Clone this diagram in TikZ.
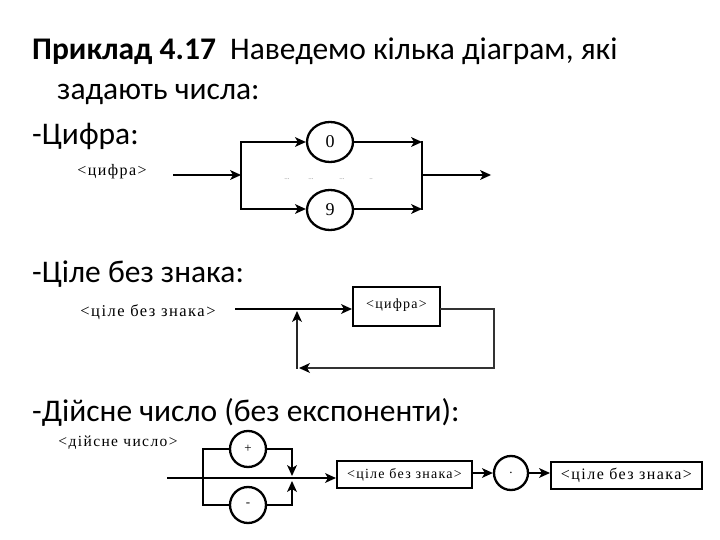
\documentclass[tikz,border=0pt]{standalone}
\usepackage{fontspec}
\setmainfont{Carlito}
\newfontfamily\serf[LetterSpace=9]{Liberation Serif}
\newfontfamily\serd{Liberation Serif}
\usetikzlibrary{shapes.geometric}
\tikzset{
  cwire/.style={line width=2.9pt,line cap=rect},
  cin/.style={line width=2.9pt,line cap=rect,shorten >=7pt},
  ahead/.pic={\fill[black] (0,0) -- (-11,5) -- (-8,0) -- (-11,-5) -- cycle;},
  head/.style={anchor=base west,inner sep=0pt,font=\fontsize{31.5}{36}\selectfont},
  lab/.style={font=\serf\fontsize{16}{18}\selectfont},
  digit/.style={ellipse,draw,line width=2.3pt,minimum width=46pt,minimum height=40pt,inner sep=0pt,font=\serd\fontsize{18}{20}\selectfont},
  sign/.style={circle,draw,line width=2.3pt,minimum size=36pt,inner sep=0pt,font=\serd\fontsize{13}{15}\selectfont},
  boxn/.style={draw,line width=2.1pt,inner sep=0pt,font=\serf\fontsize{14}{16}\selectfont},
  dotsn/.style={font=\serd\fontsize{7}{8}\selectfont,text=black!50}
}
\begin{document}
\begin{tikzpicture}[yscale=-1,x=1pt,y=1pt]
\path[use as bounding box] (0,0) rectangle (720,540);

% headings
\node[head] (t1) at (32,60) {\textbf{Приклад 4.17}\ \ Наведемо кілька діаграм, які};
\node[head] (t2) at (57,100) {задають числа:};
\node[head] (h1) at (32,145) {-Цифра:};
\node[head] (h2) at (32,282) {-Ціле без знака:};
\node[head] (h3) at (32,421) {-Дійсне число (без експоненти):};

% diagram 1
\node[lab] (l1) at (112,172) {<цифра>};
\coordinate (a0) at (174,175);
\coordinate (a1) at (241,175);
\coordinate (a1t) at (241,142);
\coordinate (a1b) at (241,209);
\node[digit] (c0) at (330,142) {0};
\node[digit] (c9) at (330,210) {9};
\coordinate (a2t) at (422,142);
\coordinate (a2b) at (422,209);
\coordinate (a2) at (422,175);
\coordinate (a3) at (491,175);
\draw[cin] (a0) -- (a1);
\draw[cwire] (a1t) -- (a1b);
\draw[cin] (a1t) -- (a1t -| c0.west);
\draw[cin] (a1b) -- (a1b -| c9.west);
\draw[cin] (c0.east) -- (a2t);
\draw[cin] (c9.east |- a2b) -- (a2b);
\draw[cwire] (a2t) -- (a2b);
\draw[cin] (a2) -- (a3);
\pic at (a1) {ahead};
\pic at (a1t -| c0.west) {ahead};
\pic at (a1b -| c9.west) {ahead};
\pic at (a2t) {ahead};
\pic at (a2b) {ahead};
\pic at (a3) {ahead};
\node[dotsn] (d1) at (287,179) {...};
\node[dotsn] (d2) at (311,179) {...};
\node[dotsn] (d3) at (342,179) {...};
\node[dotsn] (d4) at (371,179) {..};

% diagram 2
\node[lab,font=\serf\fontsize{16.5}{18}\selectfont] (l2) at (148,312) {<ціле без знака>};
\coordinate (b0) at (236,309);
\node[boxn,minimum width=87pt,minimum height=39pt] (bx) at (396.5,306.5) {\raisebox{6pt}{<цифра>}};
\coordinate (bj) at (297,311);
\coordinate (br) at (494,309);
\coordinate (brb) at (494,368);
\coordinate (bjb) at (299,368);
\coordinate (bjc) at (297,368);
\draw[cin] (b0) -- (b0 -| bx.west);
\draw[cin,black!80] (bx.east |- br) -- (br) -- (brb) -- (bjb);
\draw[cin,black!85] (bjc) -- (bj);
\pic at (b0 -| bx.west) {ahead};
\pic[rotate=180] at (bjb) {ahead};
\pic[rotate=90] at (bj) {ahead};

% diagram 3
\node[lab,font=\serf\fontsize{15.5}{17}\selectfont] (l3) at (118,443) {<дійсне число>};
\coordinate (e0) at (168,478);
\coordinate (elt) at (203,449);
\coordinate (elb) at (203,505);
\coordinate (ert) at (292,449);
\coordinate (erb) at (292,505);
\coordinate (ejt) at (292,476);
\coordinate (ejb) at (292,481);
\node[sign] (cp) at (248,449) {+};
\node[sign] (cm) at (248,505) {-};
\node[boxn,minimum width=135pt,minimum height=27pt] (b2) at (404.5,474.5) {<ціле без знака>};
\node[sign,minimum size=34pt] (cd) at (511,473) {.};
\node[boxn,minimum width=151pt,minimum height=27pt,font=\serf\fontsize{16}{18}\selectfont] (b3) at (626.5,475.5) {<ціле без знака>};
\draw[cin] (e0) -- (e0 -| b2.west);
\draw[cwire] (elt) -- (elb);
\draw[cwire] (elt) -- (cp.west);
\draw[cwire] (elb) -- (cm.west);
\draw[cin] (cp.east) -- (ert) -- (ejt);
\draw[cin] (cm.east) -- (erb) -- (ejb);
\draw[cin] (b2.east |- cd.west) -- (cd.west);
\draw[cin] (cd.east) -- (cd.east -| b3.west);
\pic at (e0 -| b2.west) {ahead};
\pic[rotate=-90] at (ejt) {ahead};
\pic[rotate=90] at (ejb) {ahead};
\pic at (cd.west) {ahead};
\pic at (cd.east -| b3.west) {ahead};
\end{tikzpicture}
\end{document}
